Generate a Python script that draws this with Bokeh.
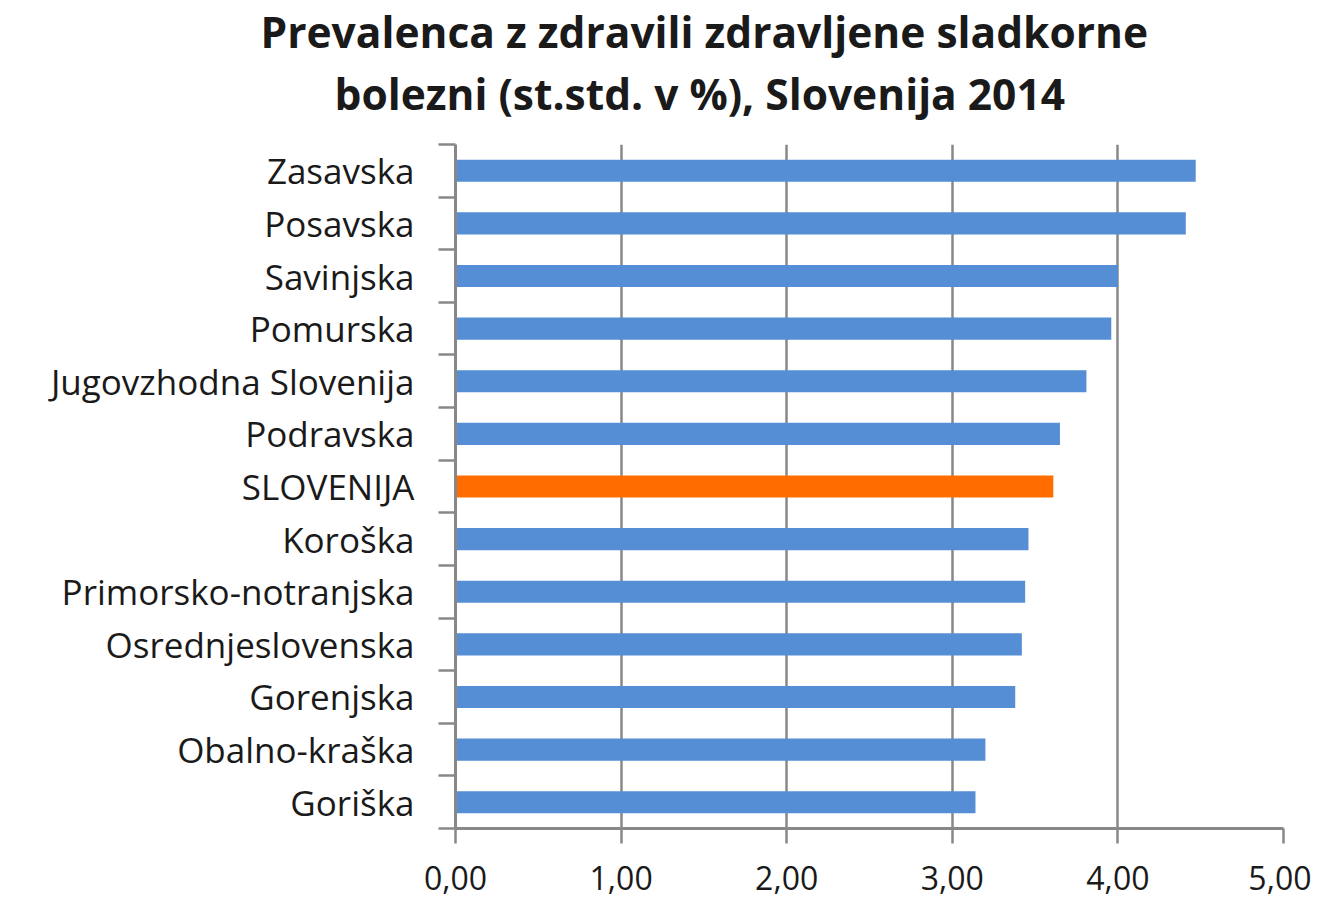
from bokeh.plotting import figure
from bokeh.models import FixedTicker, Range1d, ColumnDataSource, Title
from bokeh.embed import file_html
from bokeh.resources import INLINE

regions = ["Zasavska", "Posavska", "Savinjska", "Pomurska", "Jugovzhodna Slovenija",
           "Podravska", "SLOVENIJA", "Koroška", "Primorsko-notranjska",
           "Osrednjeslovenska", "Gorenjska", "Obalno-kraška", "Goriška"]
values = [4.47, 4.41, 4.00, 3.96, 3.81, 3.65, 3.61, 3.46, 3.44, 3.42, 3.38, 3.20, 3.14]
x_ticks = [0, 1, 2, 3, 4, 5]
x_tick_labels = ["0,00", "1,00", "2,00", "3,00", "4,00", "5,00"]
title_lines = ["Prevalenca z zdravili zdravljene sladkorne",
               "bolezni (st.std. v %), Slovenija 2014"]

BLUE = "#558ED5"
ORANGE = "#FF6D00"
GRAY = "#888888"
FONT = "Open Sans"

n = len(regions)
ypos = [n - 1 - i for i in range(n)]
colors = [ORANGE if r == "SLOVENIJA" else BLUE for r in regions]
src = ColumnDataSource(dict(y=ypos, v=values, c=colors))

p = figure(width=1311, height=903, x_range=Range1d(0, 5), y_range=Range1d(-0.5, n - 0.5),
           output_backend="svg", toolbar_location=None,
           min_border_left=455, min_border_right=28, min_border_top=144, min_border_bottom=75)
p.outline_line_color = None
p.background_fill_color = "white"
p.border_fill_color = "white"

p.hbar(y="y", left=0, right="v", height=0.42, fill_color="c", line_color=None, source=src)

# grid
p.ygrid.grid_line_color = None
p.xgrid.ticker = FixedTicker(ticks=x_ticks)
p.xgrid.grid_line_color = GRAY
p.xgrid.grid_line_width = 2.5

# x axis
xa = p.xaxis[0]
xa.ticker = FixedTicker(ticks=x_ticks)
xa.major_label_overrides = {t: l for t, l in zip(x_ticks, x_tick_labels)}
xa.axis_line_color = GRAY
xa.axis_line_width = 3
xa.major_tick_line_color = GRAY
xa.major_tick_line_width = 2.5
xa.major_tick_in = 0
xa.major_tick_out = 15
xa.minor_tick_line_color = None
xa.major_label_text_font = FONT
xa.major_label_text_font_size = "32px"
xa.major_label_text_color = "#1a1a1a"
xa.major_label_standoff = 22

# y axis
ya = p.yaxis[0]
ya.ticker = FixedTicker(ticks=ypos, minor_ticks=[k - 0.5 for k in range(n + 1)])
ya.major_label_overrides = {y: r for y, r in zip(ypos, regions)}
ya.axis_line_color = GRAY
ya.axis_line_width = 3
ya.major_tick_line_color = None
ya.major_tick_in = 0
ya.major_tick_out = 0
ya.minor_tick_line_color = GRAY
ya.minor_tick_line_width = 2.5
ya.minor_tick_in = 0
ya.minor_tick_out = 17
ya.major_label_text_font = FONT
ya.major_label_text_font_size = "35px"
ya.major_label_text_color = "#1a1a1a"
ya.major_label_standoff = 24

# title: two lines, second line added first so it sits nearest the plot
for txt, off, so in [(title_lines[1], -121, 46), (title_lines[0], -195, -40)]:
    p.add_layout(Title(text=txt, align="left", offset=off, standoff=so,
                       text_font=FONT, text_font_style="bold", text_font_size="42.5px",
                       text_color="#1a1a1a"), "above")

open("out.html", "w").write(file_html(p, INLINE))
